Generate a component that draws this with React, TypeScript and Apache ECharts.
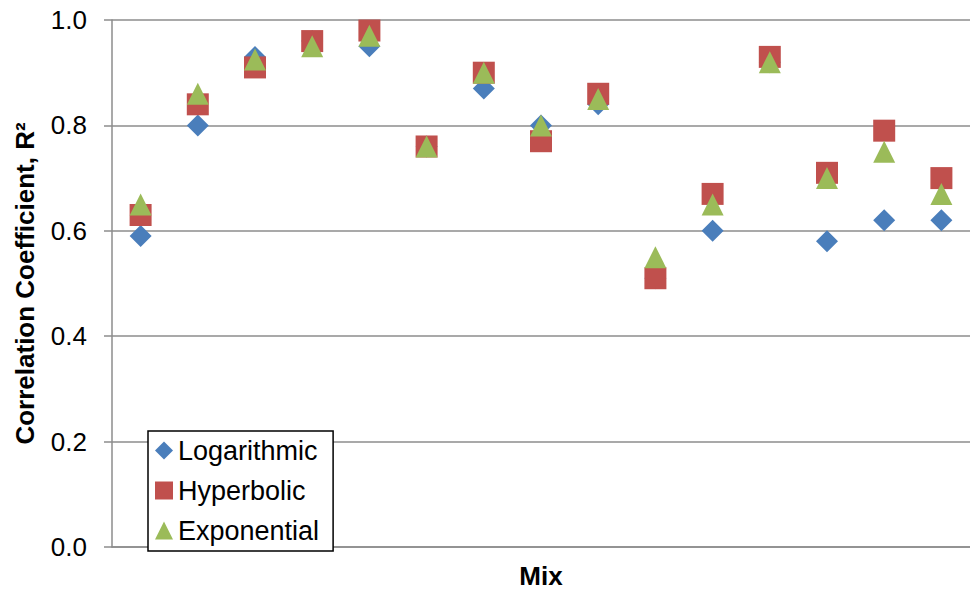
import React, { useEffect, useRef } from "react";
import * as echarts from "echarts";

const mixes = ["1", "2", "3", "4", "5", "6", "7", "8", "9", "10", "11", "12", "13", "14", "15"];
const logarithmic = [0.59, 0.8, 0.93, 0.96, 0.95, 0.76, 0.87, 0.8, 0.84, 0.51, 0.6, 0.92, 0.58, 0.62, 0.62];
const hyperbolic = [0.63, 0.84, 0.91, 0.96, 0.98, 0.76, 0.9, 0.77, 0.86, 0.51, 0.67, 0.93, 0.71, 0.79, 0.7];
const exponential = [0.65, 0.86, 0.925, 0.95, 0.97, 0.76, 0.9, 0.8, 0.85, 0.55, 0.65, 0.92, 0.7, 0.75, 0.67];
const yTicks = [0, 0.2, 0.4, 0.6, 0.8, 1.0];

const FONT = "'Liberation Sans', Arial, sans-serif";

export default function App() {
  const ref = useRef<HTMLDivElement>(null);
  useEffect(() => {
    if (!ref.current) return;
    const chart = echarts.init(ref.current, undefined, { renderer: "svg" });
    const gray = "#8c8c8c";
    chart.setOption({
      animation: false,
      backgroundColor: "#ffffff",
      grid: { left: 112, right: -10, top: 20, bottom: 42, containLabel: false },
      legend: {
        orient: "vertical",
        left: 148,
        top: 431,
        padding: [6, 14, 7, 7],
        itemGap: 13,
        itemWidth: 18,
        itemHeight: 18,
        backgroundColor: "#ffffff",
        borderColor: "#000000",
        borderWidth: 1.5,
        borderRadius: 0,
        textStyle: { fontFamily: FONT, fontSize: 27, color: "#000000" },
        data: [
          { name: "Logarithmic", icon: "diamond" },
          { name: "Hyperbolic", icon: "rect" },
          { name: "Exponential", icon: "triangle" },
        ],
      },
      xAxis: {
        type: "category",
        data: mixes,
        boundaryGap: true,
        name: "Mix",
        nameLocation: "middle",
        nameGap: 16,
        nameTextStyle: { fontFamily: FONT, fontSize: 26, fontWeight: "bold", color: "#000", verticalAlign: "top" },
        axisLine: { show: true, lineStyle: { color: gray, width: 1.5 } },
        axisTick: { show: false },
        axisLabel: { show: false },
        splitLine: { show: false },
      },
      yAxis: {
        type: "value",
        min: yTicks[0],
        max: yTicks[yTicks.length - 1],
        interval: 0.2,
        name: "Correlation Coefficient, R²",
        nameLocation: "middle",
        nameGap: 74,
        nameTextStyle: { fontFamily: FONT, fontSize: 26, fontWeight: "bold", color: "#000" },
        axisLine: { show: true, lineStyle: { color: gray, width: 1.5 } },
        axisTick: { show: true, inside: false, length: 8, lineStyle: { color: gray, width: 1.5 } },
        axisLabel: {
          margin: 25,
          fontFamily: FONT,
          fontSize: 26,
          color: "#000",
          formatter: (v: number) => v.toFixed(1),
        },
        splitLine: { show: true, lineStyle: { color: gray, width: 1.5 } },
      },
      series: [
        {
          name: "Logarithmic",
          type: "scatter",
          symbol: "diamond",
          symbolSize: 22,
          itemStyle: { color: "#4A7EBB", opacity: 1 },
          data: logarithmic,
        },
        {
          name: "Hyperbolic",
          type: "scatter",
          symbol: "rect",
          symbolSize: 22,
          itemStyle: { color: "#C0504D", opacity: 1 },
          data: hyperbolic,
        },
        {
          name: "Exponential",
          type: "scatter",
          symbol: "triangle",
          symbolSize: 22,
          itemStyle: { color: "#9BBB59", opacity: 1 },
          data: exponential,
        },
      ],
    });
    return () => chart.dispose();
  }, []);
  return <div ref={ref} style={{ width: 970, height: 594, position: "absolute", left: 0, top: 0 }} />;
}
